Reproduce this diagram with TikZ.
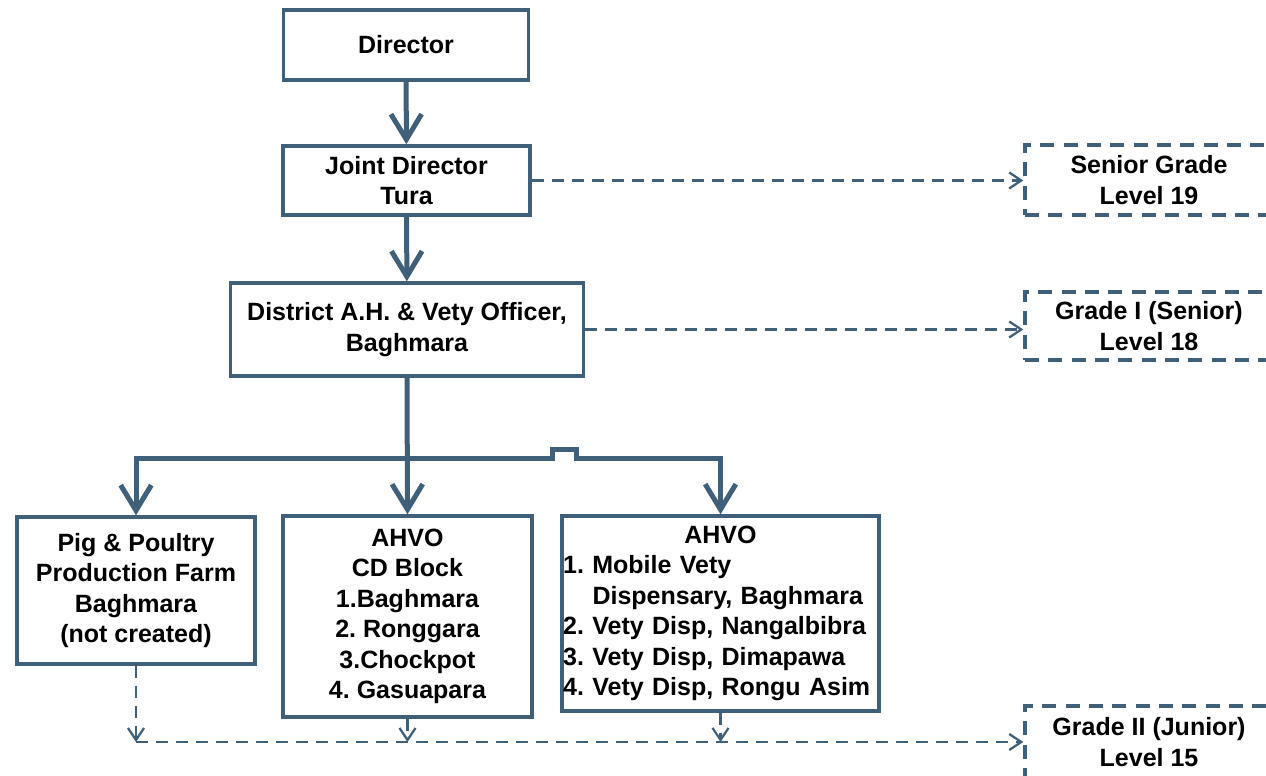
\documentclass[tikz,border=0pt]{standalone}
\usepackage{fontspec}
\setmainfont{Liberation Sans}
\usetikzlibrary{arrows.meta}
\definecolor{ln}{HTML}{40607A}
\tikzset{
  box/.style={draw=ln, line width=2.6pt, fill=white, inner sep=2pt, align=center,
    font=\fontsize{18.75pt}{22.9pt}\selectfont\bfseries\frenchspacing},
  dbox/.style={box, dash pattern=on 10.5pt off 7pt},
  thick arrow/.style={draw=ln, line width=3.75pt, -{Straight Barb[length=19pt,width=23pt]}},
  dash arrow/.style={draw=ln, line width=1.7pt, dash pattern=on 9pt off 6pt, -{Straight Barb[length=9pt,width=12pt]}}
}
\begin{document}
\begin{tikzpicture}[x=0.75pt,y=-0.75pt]
\useasboundingbox (0,0) rectangle (1266,775);
\clip (0,0) rectangle (1266,775);
\fill[white] (0,0) rectangle (1266,775);

\node[box, minimum width=183.75pt, minimum height=52.5pt] (dir) at (406,45) {Director};
\node[box, minimum width=185.25pt, minimum height=51.75pt] (jd) at (406.5,180.5) {Joint Director\\Tura};
\node[box, minimum width=264.75pt, minimum height=69.75pt] (dist) at (407,329.5) {District A.H. \& Vety Officer,\\Baghmara};
\node[box, minimum width=178.5pt, minimum height=110.25pt] (pig) at (136,590.5) {Pig \& Poultry\\Production Farm\\Baghmara\\(not created)};
\node[box, minimum width=186.75pt, minimum height=150.75pt] (cd) at (407.5,616.5) {AHVO\\CD Block\\1.Baghmara\\2. Ronggara\\3.Chockpot\\4. Gasuapara};
\node[box, align=left, text width=236pt, inner xsep=0.8pt, minimum width=237.75pt, minimum height=146.25pt] (vd) at (720.5,613.5)
  {\makebox[\linewidth][c]{AHVO}\\\mbox{1. Mobile Vety}\\\mbox{\hspace*{22pt}Dispensary, Baghmara}\\\mbox{2. Vety Disp, Nangalbibra}\\\mbox{3. Vety Disp, Dimapawa}\\\mbox{4. Vety Disp, Rongu Asim}};

\node[dbox, minimum width=186pt, minimum height=52.5pt] (sg) at (1149,180) {Senior Grade\\Level 19};
\node[dbox, minimum width=186pt, minimum height=51pt] (g1) at (1149,326) {Grade I (Senior)\\Level 18};
\node[dbox, minimum width=186pt, minimum height=54pt] (g2) at (1149,742) {Grade II (Junior)\\Level 15};

% solid hierarchy
\draw[thick arrow] (dir) -- (jd);
\draw[thick arrow] (jd) -- (dist);
\coordinate (bus) at (dist.south |- 0,458);
\coordinate (bl) at (552,458);
\coordinate (br) at (576,458);
\draw[thick arrow] (dist.south) -- (cd.north);
\draw[thick arrow] (bus) -| (pig.north);
\draw[thick arrow, line join=miter] (bus) -- (bl) -- ++(0,-9) -| (br) -| (vd.north);

% dashed grade links
\draw[dash arrow] (jd.east) -- (jd.east -| sg.west);
\draw[dash arrow] (dist.east) -- (dist.east -| g1.west);
\coordinate (jn) at (pig.south |- g2.west);
\draw[dash arrow] (pig.south) -- (jn);
\draw[dash arrow] (cd.south) -- (cd.south |- g2.west);
\draw[dash arrow] (vd.south) -- (vd.south |- g2.west);
\draw[dash arrow] (jn) -- (g2.west);
\end{tikzpicture}
\end{document}
